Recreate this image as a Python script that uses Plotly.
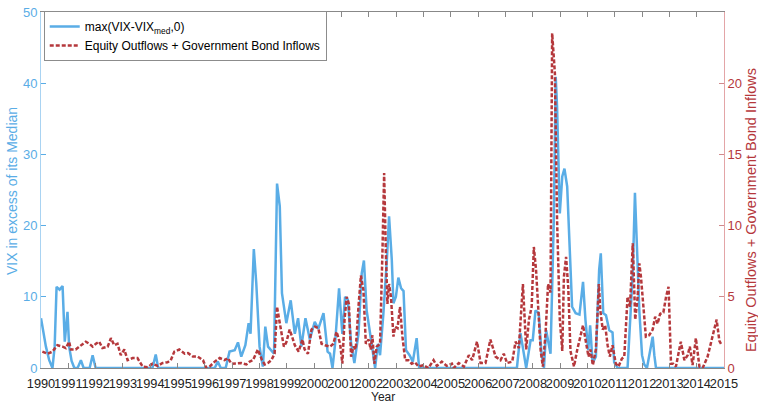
import plotly.graph_objects as go

# ---- Data (decimal years) ----
vix_years = [1990.00, 1990.10, 1990.18, 1990.30, 1990.42, 1990.50, 1990.57, 1990.68, 1990.79, 1990.87,
             1990.97, 1991.03, 1991.12, 1991.22, 1991.34, 1991.46, 1991.56, 1991.78, 1991.89, 1992.00,
             1994.08, 1994.20, 1994.29, 1996.36, 1996.47, 1996.58, 1996.76, 1996.90, 1997.09, 1997.21,
             1997.33, 1997.48, 1997.60, 1997.67, 1997.79, 1997.88, 1998.00, 1998.12, 1998.21, 1998.31,
             1998.43, 1998.53, 1998.64, 1998.74, 1998.82, 1998.98, 1999.14, 1999.29, 1999.41, 1999.53,
             1999.68, 1999.84, 2000.02, 2000.15, 2000.34, 2000.49, 2000.58, 2000.67, 2000.76, 2000.91,
             2001.03, 2001.13, 2001.23, 2001.35, 2001.47, 2001.62, 2001.74, 2001.82, 2001.92, 2002.01,
             2002.11, 2002.23, 2002.33, 2002.41, 2002.53, 2002.66, 2002.74, 2002.84, 2002.90, 2002.99,
             2003.08, 2003.18, 2003.27, 2003.36, 2003.49, 2003.61, 2003.75, 2003.84, 2007.42, 2007.55,
             2007.67, 2007.76, 2007.92, 2008.00, 2008.10, 2008.22, 2008.32, 2008.41, 2008.49, 2008.65,
             2008.77, 2008.84, 2008.89, 2008.99, 2009.08, 2009.16, 2009.26, 2009.35, 2009.44, 2009.57,
             2009.71, 2009.84, 2009.93, 2010.03, 2010.10, 2010.19, 2010.31, 2010.43, 2010.49, 2010.58,
             2010.68, 2010.80, 2010.92, 2010.98, 2011.11, 2011.47, 2011.53, 2011.66, 2011.74, 2011.80,
             2011.90, 2012.00, 2012.08, 2012.18, 2012.33, 2012.39, 2012.45, 2012.51, 2015.00]
vix_excess = [7.0, 4.5, 3.0, 1.1, 0.0, 3.0, 11.4, 11.0, 11.5, 3.7,
              7.9, 3.0, 1.0, 0.0, 0.0, 1.1, 0.0, 0.0, 1.8, 0.0,
              0.0, 1.9, 0.0, 0.0, 0.9, 0.0, 0.0, 2.3, 2.5, 3.6,
              1.6, 3.2, 6.3, 4.8, 16.7, 11.9, 3.0, 0.2, 5.8, 3.0,
              2.5, 2.0, 25.9, 22.7, 10.5, 6.3, 9.5, 4.8, 7.0, 3.0,
              7.0, 4.0, 6.5, 5.5, 7.7, 2.3, 2.0, 0.0, 3.2, 11.2,
              4.8, 10.0, 9.6, 3.5, 0.7, 4.8, 13.3, 15.1, 8.1, 5.5,
              3.2, 0.0, 3.4, 1.8, 7.5, 15.2, 21.3, 15.2, 9.1, 10.0,
              12.7, 11.2, 10.8, 2.5, 1.8, 0.9, 4.2, 0.0, 0.0, 4.9,
              2.0, 0.0, 3.9, 3.9, 8.1, 7.7, 2.0, 0.0, 5.3, 2.0,
              20.8, 40.9, 36.7, 21.7, 26.9, 28.0, 25.5, 16.1, 8.6, 7.7,
              7.5, 12.1, 6.7, 2.5, 6.0, 0.7, 1.6, 13.8, 16.1, 7.7,
              7.4, 5.3, 5.0, 0.8, 0.0, 0.0, 4.4, 13.3, 24.6, 18.9,
              8.1, 1.8, 0.5, 0.0, 3.5, 4.4, 1.8, 0.0, 0.0]

flow_years = [1990.05, 1990.24, 1990.42, 1990.60, 1990.79, 1990.91, 1991.03, 1991.09, 1991.27, 1991.46,
              1991.64, 1991.77, 1991.89, 1992.01, 1992.13, 1992.25, 1992.44, 1992.56, 1992.68, 1992.80,
              1992.92, 1993.05, 1993.17, 1993.35, 1993.53, 1993.72, 1993.90, 1994.08, 1994.27, 1994.45,
              1994.63, 1994.75, 1994.88, 1995.06, 1995.26, 1995.38, 1995.56, 1995.74, 1995.93, 1996.05,
              1996.17, 1996.36, 1996.54, 1996.72, 1996.84, 1996.97, 1997.15, 1997.33, 1997.52, 1997.64,
              1997.76, 1997.94, 1998.09, 1998.19, 1998.31, 1998.43, 1998.55, 1998.64, 1998.70, 1998.80,
              1998.89, 1998.98, 1999.10, 1999.19, 1999.29, 1999.43, 1999.57, 1999.65, 1999.77, 1999.90,
              2000.03, 2000.15, 2000.27, 2000.40, 2000.58, 2000.70, 2000.82, 2000.95, 2001.03, 2001.11,
              2001.19, 2001.27, 2001.35, 2001.44, 2001.52, 2001.62, 2001.71, 2001.80, 2001.89, 2001.99,
              2002.07, 2002.13, 2002.20, 2002.29, 2002.41, 2002.50, 2002.56, 2002.62, 2002.68, 2002.74,
              2002.81, 2002.90, 2002.96, 2003.05, 2003.14, 2003.23, 2003.33, 2003.45, 2003.57, 2003.69,
              2003.82, 2004.00, 2004.18, 2004.37, 2004.49, 2004.67, 2004.85, 2005.04, 2005.11, 2005.29,
              2005.48, 2005.66, 2005.78, 2005.96, 2006.09, 2006.27, 2006.45, 2006.64, 2006.82, 2006.94,
              2007.06, 2007.25, 2007.37, 2007.49, 2007.64, 2007.76, 2007.86, 2007.96, 2008.04, 2008.12,
              2008.20, 2008.29, 2008.37, 2008.47, 2008.56, 2008.65, 2008.71, 2008.81, 2008.89, 2008.99,
              2009.08, 2009.14, 2009.22, 2009.30, 2009.38, 2009.51, 2009.63, 2009.75, 2009.84, 2009.93,
              2010.04, 2010.11, 2010.20, 2010.31, 2010.42, 2010.47, 2010.56, 2010.65, 2010.74, 2010.82,
              2010.92, 2011.04, 2011.14, 2011.26, 2011.35, 2011.47, 2011.56, 2011.66, 2011.75, 2011.84,
              2011.90, 2011.96, 2012.04, 2012.14, 2012.26, 2012.39, 2012.48, 2012.57, 2012.66, 2012.78,
              2012.88, 2012.97, 2013.06, 2013.14, 2013.24, 2013.42, 2013.55, 2013.67, 2013.75, 2013.85,
              2013.97, 2014.10, 2014.22, 2014.40, 2014.59, 2014.73, 2014.83, 2014.89]
flow_values = [1.15, 1.0, 1.15, 1.6, 1.5, 1.4, 1.85, 1.3, 1.3, 1.55,
               1.85, 1.7, 1.5, 1.7, 1.85, 1.4, 1.5, 2.1, 1.6, 1.7,
               0.9, 1.3, 0.55, 0.7, 0.7, 0.1, 0.05, 0.3, 0.15, 0.35,
               0.4, 0.55, 1.15, 1.3, 1.0, 1.05, 0.8, 0.8, 0.55, 0.0,
               0.1, 0.45, 0.7, 0.55, 0.7, 0.3, 0.3, 0.35, 0.25, 0.45,
               0.55, 1.3, 0.55, 0.25, 0.35, 0.55, 1.0, 4.3, 3.6, 2.4,
               1.5, 1.8, 2.7, 2.2, 1.6, 1.15, 2.0, 1.3, 1.0, 2.7,
               2.9, 2.8, 1.7, 1.6, 1.5, 1.7, 2.55, 1.7, 0.3, 3.4,
               5.0, 4.5, 0.8, 1.5, 1.3, 4.3, 6.5, 5.5, 1.7, 2.0,
               1.3, 2.3, 0.3, 1.5, 1.7, 8.3, 13.7, 8.3, 4.5, 5.9,
               5.0, 2.2, 2.9, 2.8, 4.3, 2.2, 0.55, 0.55, 0.3, 0.4,
               0.1, 0.2, 0.0, 0.55, 0.15, 0.45, 0.15, 0.3, 0.0, 0.35,
               0.1, 0.9, 0.55, 1.85, 0.35, 0.35, 2.0, 0.8, 0.55, 1.0,
               0.35, 0.45, 1.85, 1.4, 5.9, 1.3, 3.4, 4.3, 8.5, 6.9,
               3.9, 1.2, 0.1, 2.5, 5.9, 5.3, 23.5, 20.7, 10.4, 3.4,
               1.2, 6.4, 7.8, 5.6, 1.2, 0.1, 1.3, 2.4, 3.0, 2.0,
               0.8, 1.3, 0.2, 1.3, 5.9, 4.1, 2.7, 3.0, 1.6, 0.8,
               1.6, 0.3, 0.1, 0.65, 0.8, 5.0, 4.3, 8.75, 3.4, 5.0,
               7.35, 6.4, 4.3, 2.2, 2.3, 2.7, 3.6, 3.1, 3.8, 3.9,
               5.0, 5.7, 0.3, 0.3, 0.1, 1.85, 0.55, 0.9, 1.5, 0.2,
               2.1, 0.1, 0.0, 0.8, 2.3, 3.4, 1.9, 1.7]

year_ticks = list(range(1990, 2016))
left_ticks = [0, 10, 20, 30, 40, 50]
right_ticks = [0, 5, 10, 15, 20]

BLUE = "#5aade6"
RED = "#b5383c"
FONT = "Liberation Sans, Arial, sans-serif"

W, H = 758, 403
ML, MR, MT, MB = 41, 34, 12, 35
PW, PH = W - ML - MR, H - MT - MB

fig = go.Figure()
fig.add_trace(go.Scatter(
    x=vix_years, y=vix_excess, mode="lines", yaxis="y",
    name="max(VIX-VIX<sub>med</sub>,0)",
    line=dict(color=BLUE, width=2.5)))
fig.add_trace(go.Scatter(
    x=flow_years, y=flow_values, mode="lines", yaxis="y2",
    name="Equity Outflows + Government Bond Inflows",
    line=dict(color=RED, width=2.5, dash="4px,2px")))

fig.update_layout(
    width=W, height=H,
    margin=dict(l=ML, r=MR, t=MT, b=MB, autoexpand=False),
    paper_bgcolor="white", plot_bgcolor="white",
    font=dict(family=FONT, size=12, color="black"),
    showlegend=True,
    legend=dict(x=0.004, y=1.003, xanchor="left", yanchor="top",
                bgcolor="white", bordercolor="#8c8c8c", borderwidth=1,
                font=dict(size=12), itemwidth=30, tracegroupgap=0),
    xaxis=dict(range=[1990, 2015], tickmode="array", tickvals=year_ticks,
               ticktext=[str(y) for y in year_ticks], tickangle=0,
               ticks="inside", ticklen=5, tickcolor="#888888",
               showline=True, linecolor="#888888", linewidth=1, mirror="ticks",
               showgrid=False, zeroline=False, automargin=False,
               ticklabelstandoff=4,
               tickfont=dict(size=12.8, color="#222222")),
    yaxis=dict(range=[0, 50], tickvals=left_ticks, ticks="inside", ticklen=5,
               tickcolor=BLUE, showline=True, linecolor="#a9d3f2", linewidth=1,
               showgrid=False, zeroline=False, automargin=False,
               tickfont=dict(size=13, color=BLUE)),
    yaxis2=dict(range=[0, 25], tickvals=right_ticks, ticks="inside", ticklen=5,
                tickcolor="#d08a8c", overlaying="y", side="right",
                showline=True, linecolor="#e3a5a7", linewidth=1,
                showgrid=False, zeroline=False, automargin=False,
                tickfont=dict(size=13, color=RED)),
    annotations=[
        dict(text="VIX in excess of its Median", xref="paper", yref="paper",
             x=-(ML - 12) / PW, y=(368 - 191) / PH, textangle=-90, showarrow=False,
             xanchor="center", yanchor="middle", font=dict(size=14, color=BLUE)),
        dict(text="Equity Outflows + Government Bond Inflows", xref="paper", yref="paper",
             x=1 + (751 - (W - MR)) / PW, y=(368 - 210) / PH, textangle=-90, showarrow=False,
             xanchor="center", yanchor="middle", font=dict(size=14.5, color=RED)),
        dict(text="Year", xref="paper", yref="paper",
             x=0.5, y=-(397 - (H - MB)) / PH, showarrow=False,
             xanchor="center", yanchor="middle", font=dict(size=12, color="#222222")),
    ],
)

fig.write_html(
    "out.html",
    config={"displayModeBar": False},
    post_script="document.body.style.margin='0';document.body.style.overflow='hidden';",
)
